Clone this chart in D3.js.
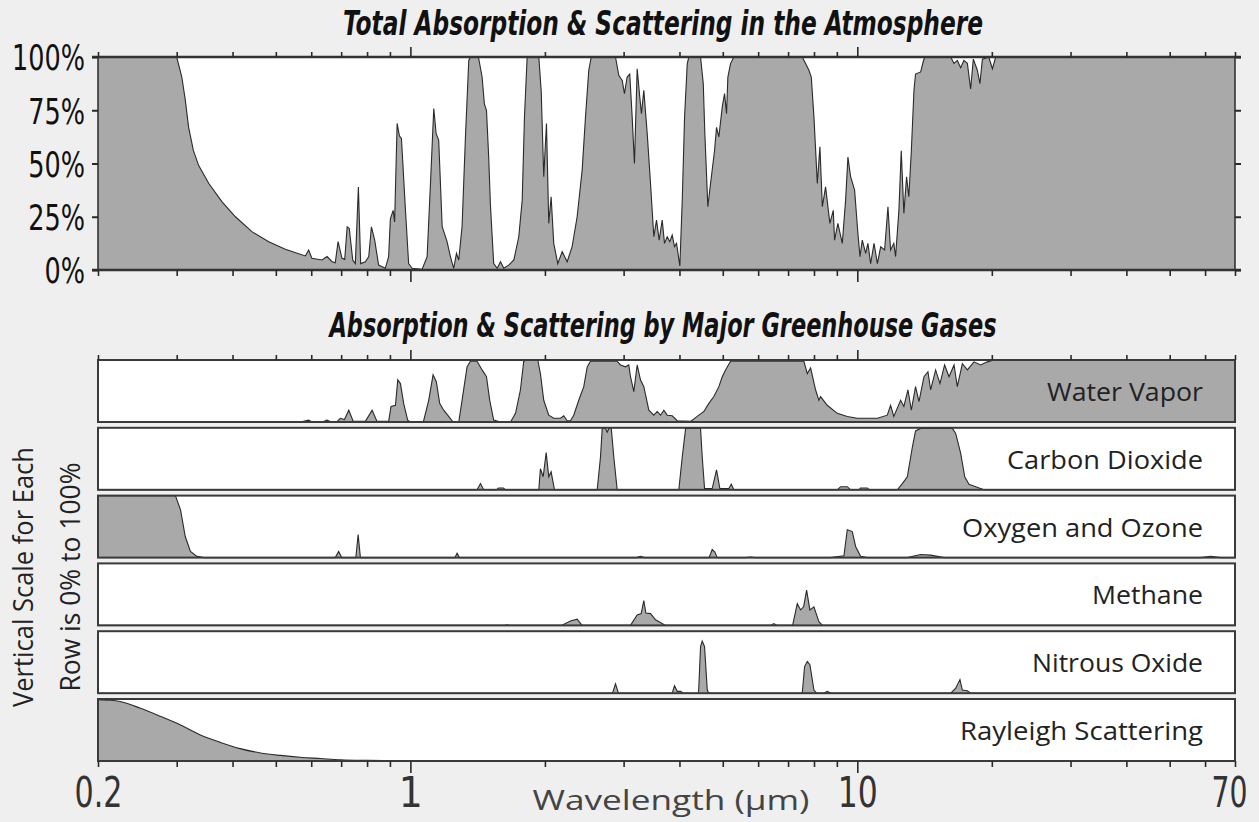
<!DOCTYPE html>
<html>
<head>
<meta charset="utf-8">
<script src="https://cdn.jsdelivr.net/npm/d3@7"></script>
<style>
  body { margin: 0; background: #efefef; }
</style>
</head>
<body>
<div id="chart"></div>
<script>
// [wavelength in µm, absorption %]
const total = [[0.2,100],[0.300,100],[0.308,90.6],[0.3135,80],[0.319,67],[0.327,56],[0.336,49],[0.354,40.6],[0.379,32],[0.406,25],[0.442,18],[0.482,13.3],[0.525,9.7],[0.582,6.6],[0.592,9.4],[0.602,5.5],[0.634,4.7],[0.651,6.3],[0.668,3.9],[0.679,3.4],[0.689,13.3],[0.703,5.5],[0.713,5],[0.722,20.3],[0.730,19.5],[0.743,4.7],[0.753,3],[0.765,39],[0.774,3],[0.793,3.9],[0.807,6.3],[0.818,20.3],[0.832,14],[0.849,2.3],[0.879,0.8],[0.894,6.3],[0.902,24],[0.915,28],[0.922,22.6],[0.934,68.8],[0.945,63],[0.955,61.7],[0.975,28],[0.991,3],[1.009,0.8],[1.062,0.3],[1.090,6.3],[1.109,40.6],[1.128,75.8],[1.142,64],[1.157,61],[1.178,20.3],[1.208,13.3],[1.229,6.3],[1.250,0.8],[1.268,7.8],[1.283,4.7],[1.305,20.3],[1.328,62.5],[1.351,98.4],[1.362,100],[1.420,100],[1.447,90.6],[1.464,78],[1.480,75],[1.497,53],[1.510,31],[1.536,3],[1.564,0.8],[1.591,3.9],[1.618,0.8],[1.660,2.3],[1.704,4.7],[1.748,15.6],[1.779,32.8],[1.800,71.9],[1.825,100],[1.938,100],[1.962,84],[1.988,43.8],[2.016,68.8],[2.040,21.9],[2.065,34.4],[2.093,12.5],[2.137,3],[2.186,8.6],[2.243,3.9],[2.301,11],[2.361,25],[2.423,46.9],[2.465,71.9],[2.507,93.8],[2.539,100],[2.877,100],[2.926,91.4],[2.978,89],[3.013,82.8],[3.055,90.6],[3.096,92],[3.135,71.9],[3.172,50],[3.217,94.5],[3.261,81],[3.289,73.4],[3.329,84.4],[3.388,64],[3.446,40.6],[3.505,15.6],[3.554,23.4],[3.603,14],[3.660,23.4],[3.703,12.5],[3.755,15.6],[3.806,13.3],[3.853,16.4],[3.899,11],[3.940,12.5],[4.008,1.9],[4.058,32.8],[4.107,71.9],[4.164,96.9],[4.198,100],[4.459,100],[4.522,87.5],[4.559,64],[4.630,29.7],[4.695,40.6],[4.792,56],[4.842,67],[4.900,62.5],[4.987,76.6],[5.046,82.8],[5.098,73.4],[5.133,90.6],[5.204,96.9],[5.293,100],[7.531,100],[7.661,97],[7.793,93.8],[7.889,90.6],[7.997,72],[8.138,40.6],[8.248,57.8],[8.351,29.7],[8.492,39],[8.682,21.9],[8.836,28],[8.895,14],[9.047,21.9],[9.255,12.5],[9.415,32.8],[9.528,53],[9.661,43.8],[9.862,37.5],[10.03,17.2],[10.14,6.3],[10.26,14],[10.44,7.8],[10.56,12.5],[10.71,3],[10.90,12.5],[11.09,3],[11.28,10.9],[11.51,9.4],[11.71,29.7],[11.87,9.4],[12.07,12.5],[12.18,6.3],[12.39,28],[12.54,56],[12.71,26.6],[12.89,43.8],[13.04,34.4],[13.21,56],[13.39,84.4],[13.50,92],[13.86,93],[14.05,98],[14.15,100],[16.18,100],[16.46,97],[16.74,98.4],[17.03,95],[17.32,98.4],[17.63,97],[17.93,85],[18.18,99],[18.56,93.8],[18.81,87.5],[19.05,99],[19.68,100],[20.06,94.5],[20.40,100],[70,100]]

const water = [[0.2,0],[0.567,0],[0.592,3],[0.603,0],[0.635,0],[0.651,3],[0.665,0],[0.686,1],[0.697,6],[0.712,4],[0.728,19],[0.745,1],[0.793,1],[0.821,19],[0.842,1],[0.894,1],[0.905,25],[0.926,27],[0.937,68],[0.950,62],[0.966,30],[0.986,3],[1.0,0],[1.069,0],[1.099,35],[1.124,76],[1.143,65],[1.163,30],[1.187,19],[1.218,9],[1.246,0],[1.283,0],[1.305,35],[1.339,89],[1.362,98],[1.410,98],[1.447,84],[1.480,73],[1.505,35],[1.536,3],[1.591,0],[1.675,0],[1.719,14],[1.763,52],[1.793,98],[1.818,100],[1.928,100],[1.954,78],[1.988,35],[2.040,11],[2.093,6],[2.167,6],[2.204,10],[2.243,2],[2.281,2],[2.320,11],[2.381,35],[2.443,57],[2.487,89],[2.529,98],[2.902,98],[2.952,92],[3.029,89],[3.081,92],[3.108,73],[3.162,49],[3.217,92],[3.272,68],[3.329,57],[3.416,19],[3.505,11],[3.567,17],[3.629,11],[3.691,19],[3.755,11],[3.853,10],[3.954,2],[4.236,1],[4.384,9],[4.536,17],[4.654,30],[4.775,41],[4.900,57],[4.987,73],[5.072,84],[5.204,98],[7.594,98],[7.729,78],[7.862,87],[8.065,52],[8.204,35],[8.277,41],[8.565,27],[9.019,14],[9.497,9],[10.0,6],[10.53,6],[11.09,6],[11.67,11],[11.87,27],[12.07,9],[12.50,35],[12.71,25],[12.98,52],[13.21,19],[13.50,57],[13.74,33],[14.10,73],[14.39,81],[14.59,52],[14.97,84],[15.31,62],[15.68,92],[16.04,73],[16.46,92],[16.74,57],[17.18,94],[17.63,84],[18.24,97],[18.88,92],[19.54,97],[20.22,100],[70,100]]

const co2 = [[0.2,0],[1.410,0],[1.435,10],[1.459,0],[1.558,0],[1.574,3],[1.615,3],[1.632,0],[1.938,0],[1.954,34],[1.982,21],[2.013,60],[2.040,21],[2.065,29],[2.101,0],[2.618,0],[2.663,53],[2.687,99],[2.733,99],[2.757,93],[2.780,99],[2.815,99],[2.852,53],[2.902,0],[3.987,0],[4.058,53],[4.129,99],[4.459,99],[4.498,53],[4.552,2],[4.735,2],[4.842,32],[4.925,2],[5.160,2],[5.223,9],[5.293,0],[9.019,0],[9.176,5],[9.497,5],[9.661,0],[10.07,0],[10.17,3],[10.53,3],[10.65,0],[12.29,0],[12.61,10],[12.94,21],[13.28,69],[13.50,95],[13.86,99],[16.32,99],[16.60,91],[17.03,59],[17.39,21],[17.78,9],[18.40,5],[19.20,0],[70,0]]

const ozone = [[0.2,100],[0.298,100],[0.306,77],[0.3135,34],[0.322,10],[0.333,2],[0.345,0],[0.679,0],[0.691,10],[0.702,0],[0.755,0],[0.764,37],[0.773,0],[1.258,0],[1.272,7],[1.287,0],[3.205,0],[3.272,2],[3.341,0],[4.659,0],[4.735,13],[4.801,9],[4.859,0],[5.622,0],[5.769,1],[5.920,0],[8.714,0],[9.333,3],[9.497,45],[9.745,42],[9.913,18],[10.17,2],[10.53,0],[12.94,0],[13.86,5],[14.59,4],[15.63,0],[58.7,0],[61.8,2],[65.1,0],[70,0]]

const methane = [[0.2,0],[1.624,0],[1.646,1],[1.666,0],[2.178,0],[2.281,7],[2.361,10],[2.423,0],[3.108,0],[3.217,17],[3.284,19],[3.329,40],[3.364,20],[3.446,19],[3.536,9],[3.724,0],[6.396,0],[6.506,3],[6.614,0],[7.165,0],[7.340,35],[7.466,25],[7.583,30],[7.701,57],[7.833,25],[7.997,30],[8.204,6],[8.362,0],[70,0]]

const n2o = [[0.2,0],[2.833,0],[2.877,15],[2.921,0],[3.853,0],[3.899,12],[3.954,3],[4.022,3],[4.085,0],[4.413,0],[4.459,75],[4.498,84],[4.552,75],[4.616,5],[4.654,0],[7.531,0],[7.621,43],[7.729,51],[7.833,46],[7.997,5],[8.107,0],[8.405,0],[8.565,3],[8.737,0],[16.18,0],[16.60,8],[16.97,22],[17.18,5],[17.63,4],[17.93,0],[70,0]]

const rayleigh = [[0.2,99],[0.213,98],[0.224,96],[0.249,85],[0.276,72],[0.306,58],[0.339,42],[0.376,30],[0.416,20],[0.462,13],[0.512,9],[0.567,6],[0.629,4],[0.697,2],[0.800,1],[0.950,0.5],[1.109,0],[70,0]]

const gasNames = ['Water Vapor', 'Carbon Dioxide', 'Oxygen and Ozone', 'Methane', 'Nitrous Oxide', 'Rayleigh Scattering']
const gasSeries = [water, co2, ozone, methane, n2o, rayleigh]

const pctTicks = [0, 25, 50, 75, 100]
const minorTicks = [0.2, 0.3, 0.4, 0.5, 0.6, 0.7, 0.8, 0.9, 2, 3, 4, 5, 6, 7, 8, 9, 20, 30, 40, 50, 60, 70]
const majorTicks = [1, 10]
const labelTicks = [0.2, 1, 10, 70]

const width = 1259
const height = 822
const left = 98
const right = 1235
const topY0 = 57
const topY1 = 270
const rowsTop = 360
const rowH = 62
const rowStep = 67.8
const rowsBottom = rowsTop + 5 * rowStep + rowH

const fill = '#a9a9a9'
const ink = '#2a2a2a'
const narrow = "'Liberation Sans Narrow', 'DejaVu Sans Condensed', 'Liberation Sans', sans-serif"
const plain = "'Open Sans', 'Noto Sans', sans-serif"

const svg = d3.select('#chart').append('svg')
    .attr('width', width)
    .attr('height', height)

svg.append('rect')
    .attr('width', width)
    .attr('height', height)
    .attr('fill', '#efefef')

const x = d3.scaleLog().domain([0.2, 70]).range([left, right])
const yTop = d3.scaleLinear().domain([0, 100]).range([topY1, topY0])

function fitWidth(sel, w) {
    sel.attr('textLength', w).attr('lengthAdjust', 'spacingAndGlyphs')
}

// squeeze all labels of a group by the factor that makes the reference label the target width
function squeeze(texts, refIndex, target) {
    const nodes = texts.nodes()
    const factor = target / nodes[refIndex].getComputedTextLength()
    nodes.forEach(n => {
        const w = n.getComputedTextLength() * factor
        d3.select(n).attr('textLength', w).attr('lengthAdjust', 'spacingAndGlyphs')
    })
}

function xTicks(yPos, orient, minorSize, majorSize) {
    const make = orient === 'top' ? d3.axisTop : d3.axisBottom
    ;[[minorTicks, minorSize], [majorTicks, majorSize]].forEach(([vals, size]) => {
        svg.append('g')
            .attr('transform', 'translate(0,' + yPos + ')')
            .call(make(x).tickValues(vals).tickSize(size).tickSizeOuter(0).tickFormat(''))
            .call(g => g.select('.domain').remove())
            .selectAll('line')
            .attr('stroke', ink)
            .attr('stroke-width', 1.6)
    })
}

// ---- titles
svg.append('text')
    .attr('x', 663).attr('y', 35)
    .attr('text-anchor', 'middle')
    .attr('font-family', narrow)
    .attr('font-weight', 'bold')
    .attr('font-style', 'italic')
    .attr('font-size', 33)
    .attr('fill', '#111')
    .text('Total Absorption & Scattering in the Atmosphere')
    .call(fitWidth, 640)

svg.append('text')
    .attr('x', 663).attr('y', 337)
    .attr('text-anchor', 'middle')
    .attr('font-family', narrow)
    .attr('font-weight', 'bold')
    .attr('font-style', 'italic')
    .attr('font-size', 33)
    .attr('fill', '#111')
    .text('Absorption & Scattering by Major Greenhouse Gases')
    .call(fitWidth, 667)

// ---- top panel
svg.append('rect')
    .attr('x', left).attr('y', topY0)
    .attr('width', right - left).attr('height', topY1 - topY0)
    .attr('fill', 'white')

const topArea = d3.area()
    .x(d => x(d[0]))
    .y0(topY1)
    .y1(d => yTop(d[1]))
const topLine = d3.line()
    .x(d => x(d[0]))
    .y(d => yTop(d[1]))

svg.append('path').datum(total).attr('d', topArea).attr('fill', fill)
svg.append('path').datum(total).attr('d', topLine)
    .attr('fill', 'none').attr('stroke', ink).attr('stroke-width', 1.1)

svg.append('g').selectAll('line').data([left, right]).join('line')
    .attr('x1', d => d).attr('x2', d => d)
    .attr('y1', topY0).attr('y2', topY1)
    .attr('stroke', ink).attr('stroke-width', 1.5)
svg.append('g').selectAll('line').data([topY0, topY1]).join('line')
    .attr('x1', left - 6).attr('x2', right + 6)
    .attr('y1', d => d).attr('y2', d => d)
    .attr('stroke', '#333').attr('stroke-width', 2.6)

xTicks(topY0, 'top', 5, 10)
xTicks(topY1, 'bottom', 6, 12)

const leftAxis = svg.append('g')
    .attr('transform', 'translate(' + left + ',0)')
    .call(d3.axisLeft(yTop).tickValues(pctTicks).tickSize(6).tickSizeOuter(0).tickPadding(7).tickFormat(d => d + '%'))
    .call(g => g.select('.domain').remove())
leftAxis.selectAll('line').attr('stroke', ink).attr('stroke-width', 2)
leftAxis.selectAll('text')
    .attr('font-family', narrow)
    .attr('font-size', 36)
    .attr('fill', '#111')
    .attr('dy', '0.36em')
squeeze(leftAxis.selectAll('text'), 4, 73)

svg.append('g')
    .attr('transform', 'translate(' + right + ',0)')
    .call(d3.axisRight(yTop).tickValues(pctTicks).tickSize(6).tickSizeOuter(0).tickFormat(''))
    .call(g => g.select('.domain').remove())
    .selectAll('line').attr('stroke', ink).attr('stroke-width', 2)

// ---- gas rows
const labelWidths = [156, 196, 241, 111, 171, 243]

gasSeries.forEach((series, i) => {
    const top = rowsTop + i * rowStep
    const yRow = d3.scaleLinear().domain([0, 100]).range([top + rowH, top])
    const curve = i === 5 ? d3.curveMonotoneX : d3.curveLinear
    const g = svg.append('g')

    g.append('rect')
        .attr('x', left).attr('y', top)
        .attr('width', right - left).attr('height', rowH)
        .attr('fill', 'white')

    g.append('path').datum(series)
        .attr('d', d3.area().x(d => x(d[0])).y0(top + rowH).y1(d => yRow(d[1])).curve(curve))
        .attr('fill', fill)
    g.append('path').datum(series)
        .attr('d', d3.line().x(d => x(d[0])).y(d => yRow(d[1])).curve(curve))
        .attr('fill', 'none').attr('stroke', ink).attr('stroke-width', 1.1)

    g.append('rect')
        .attr('x', left).attr('y', top)
        .attr('width', right - left).attr('height', rowH)
        .attr('fill', 'none')
        .attr('stroke', '#3a3a3a').attr('stroke-width', 2)

    g.append('text')
        .attr('x', 1203).attr('y', top + rowH / 2 + 10)
        .attr('text-anchor', 'end')
        .attr('font-family', plain)
        .attr('font-size', 25)
        .attr('fill', '#222')
        .text(gasNames[i])
        .call(fitWidth, labelWidths[i])
})

xTicks(rowsTop, 'top', 5, 10)
xTicks(rowsBottom, 'bottom', 6, 12)

// label widths ("1" keeps its own width)
const tickLabelWidths = [48, null, 40, 36]
const bottomLabels = svg.append('g')
    .attr('transform', 'translate(0,' + rowsBottom + ')')
    .call(d3.axisBottom(x).tickValues(labelTicks).tickSize(0).tickPadding(16).tickFormat(d => String(d)))
    .call(g => g.select('.domain').remove())
bottomLabels.selectAll('text')
    .attr('font-family', narrow)
    .attr('font-size', 42)
    .attr('fill', '#333')
    .each(function (d, i) {
        if (tickLabelWidths[i]) fitWidth(d3.select(this), tickLabelWidths[i])
    })
bottomLabels.selectAll('text').filter(d => d === 70).attr('dx', -6)

svg.append('text')
    .attr('x', 671).attr('y', 810)
    .attr('text-anchor', 'middle')
    .attr('font-family', plain)
    .attr('font-size', 28)
    .attr('fill', '#444')
    .text('Wavelength (\u03bcm)')
    .call(fitWidth, 277)

// rotated scale note
const note = svg.append('g')
note.append('text')
    .attr('transform', 'translate(33,577) rotate(-90)')
    .attr('text-anchor', 'middle')
    .attr('font-family', plain)
    .attr('font-size', 27)
    .attr('fill', '#222')
    .text('Vertical Scale for Each')
    .call(fitWidth, 260)
note.append('text')
    .attr('transform', 'translate(80,577) rotate(-90)')
    .attr('text-anchor', 'middle')
    .attr('font-family', plain)
    .attr('font-size', 27)
    .attr('fill', '#222')
    .text('Row is 0% to 100%')
    .call(fitWidth, 229)
</script>
</body>
</html>
